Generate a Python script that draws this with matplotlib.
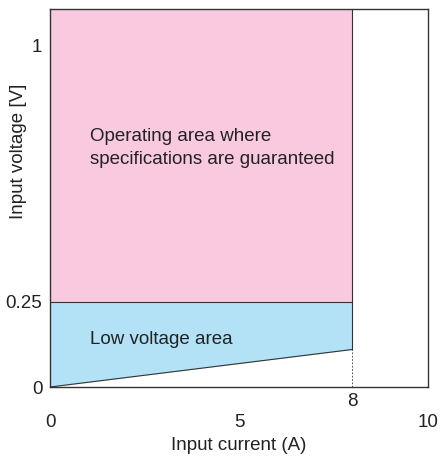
import numpy as np
import matplotlib
matplotlib.use("Agg")
import matplotlib.pyplot as plt

plt.rcParams['font.family'] = ['Liberation Sans', 'DejaVu Sans']

# Data
x_max_rated = 8          # A, limit of the operating area
v_low = 0.25             # V, boundary between low voltage and guaranteed area
v_min_at_max = 0.11      # V, lower bound at 8 A
x_ticks = [0, 5, 10]
y_ticks = [0, 0.25, 1]
x_lim = (0, 10)
y_lim = (0, 1.108)

pink = '#F8C9DF'
blue = '#B3E2F7'
edge = '#333333'
fs = 13.5

fig = plt.figure(figsize=(4.41, 4.57), dpi=100)
ax = fig.add_axes([50 / 441, 1 - 387 / 457, 378 / 441, 378 / 457])

xs = np.array([0, x_max_rated])
lower = np.array([0, v_min_at_max])

# Operating area (pink)
ax.fill_between(xs, v_low, y_lim[1], color=pink, lw=0)
# Low voltage area (blue)
ax.fill_between(xs, lower, v_low, color=blue, lw=0)

ax.plot(xs, lower, color=edge, lw=0.8)
ax.plot(xs, [v_low, v_low], color=edge, lw=0.8)
ax.plot([x_max_rated, x_max_rated], [v_min_at_max, y_lim[1]], color=edge, lw=0.8)
ax.plot([x_max_rated, x_max_rated], [0, v_min_at_max], color=edge, lw=0.6,
        linestyle=(0, (2, 2)))

ax.text(1.05, 0.70, "Operating area where\nspecifications are guaranteed",
        fontsize=fs, color='#222222', va='center', ha='left', linespacing=1.45)
ax.text(1.05, 0.138, "Low voltage area", fontsize=fs, color='#222222',
        va='center', ha='left')

ax.set_xlim(*x_lim)
ax.set_ylim(*y_lim)
ax.set_xticks(x_ticks)
ax.set_yticks(y_ticks)
ax.set_yticklabels(['0', '0.25', '1'])
ax.tick_params(axis='both', length=0, labelsize=fs, colors='#222222')
ax.tick_params(axis='x', pad=19.5)
ax.tick_params(axis='y', pad=5.5)

# separate "8" label just under the axis
ax.text(x_max_rated, -0.018, "8", fontsize=fs, color='#222222',
        ha='center', va='top', clip_on=False)

ax.set_xlabel("Input current (A)", fontsize=fs, color='#222222', labelpad=4)
ax.set_ylabel("Input voltage [V]", fontsize=fs, color='#222222')
ax.yaxis.set_label_coords(-0.06, 0.624)

for s in ax.spines.values():
    s.set_color(edge)
    s.set_linewidth(1.0)

fig.savefig("out.png", dpi=100)
